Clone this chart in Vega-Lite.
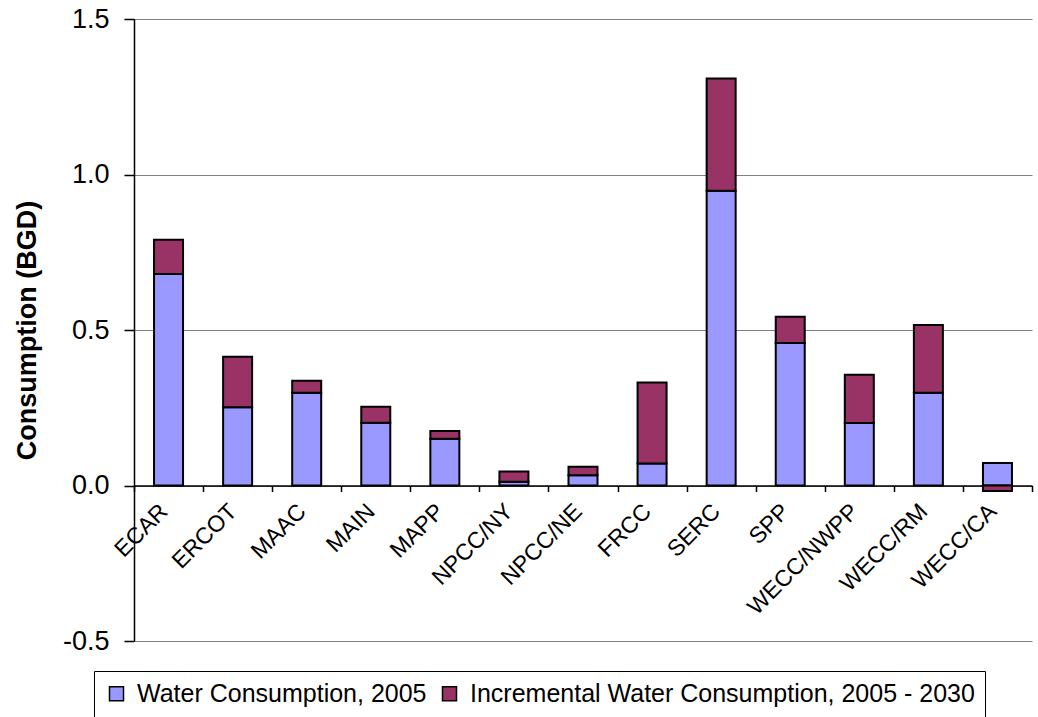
{
  "$schema": "https://vega.github.io/schema/vega-lite/v6.json",
  "autosize": "none",
  "padding": {"left": 134, "top": 19, "right": 6, "bottom": 76},
  "width": 898,
  "height": 622,
  "background": "white",
  "config": {
    "view": {"stroke": null},
    "font": "Liberation Sans, Arial, sans-serif"
  },
  "data": {
    "values": [
      {"region": "ECAR", "series": "Water Consumption, 2005", "value": 0.68},
      {"region": "ECAR", "series": "Incremental Water Consumption, 2005 - 2030", "value": 0.11},
      {"region": "ERCOT", "series": "Water Consumption, 2005", "value": 0.252},
      {"region": "ERCOT", "series": "Incremental Water Consumption, 2005 - 2030", "value": 0.162},
      {"region": "MAAC", "series": "Water Consumption, 2005", "value": 0.298},
      {"region": "MAAC", "series": "Incremental Water Consumption, 2005 - 2030", "value": 0.039},
      {"region": "MAIN", "series": "Water Consumption, 2005", "value": 0.202},
      {"region": "MAIN", "series": "Incremental Water Consumption, 2005 - 2030", "value": 0.051},
      {"region": "MAPP", "series": "Water Consumption, 2005", "value": 0.15},
      {"region": "MAPP", "series": "Incremental Water Consumption, 2005 - 2030", "value": 0.025},
      {"region": "NPCC/NY", "series": "Water Consumption, 2005", "value": 0.012},
      {"region": "NPCC/NY", "series": "Incremental Water Consumption, 2005 - 2030", "value": 0.033},
      {"region": "NPCC/NE", "series": "Water Consumption, 2005", "value": 0.033},
      {"region": "NPCC/NE", "series": "Incremental Water Consumption, 2005 - 2030", "value": 0.027},
      {"region": "FRCC", "series": "Water Consumption, 2005", "value": 0.071},
      {"region": "FRCC", "series": "Incremental Water Consumption, 2005 - 2030", "value": 0.26},
      {"region": "SERC", "series": "Water Consumption, 2005", "value": 0.948},
      {"region": "SERC", "series": "Incremental Water Consumption, 2005 - 2030", "value": 0.361},
      {"region": "SPP", "series": "Water Consumption, 2005", "value": 0.458},
      {"region": "SPP", "series": "Incremental Water Consumption, 2005 - 2030", "value": 0.085},
      {"region": "WECC/NWPP", "series": "Water Consumption, 2005", "value": 0.201},
      {"region": "WECC/NWPP", "series": "Incremental Water Consumption, 2005 - 2030", "value": 0.155},
      {"region": "WECC/RM", "series": "Water Consumption, 2005", "value": 0.298},
      {"region": "WECC/RM", "series": "Incremental Water Consumption, 2005 - 2030", "value": 0.218},
      {"region": "WECC/CA", "series": "Water Consumption, 2005", "value": 0.072},
      {"region": "WECC/CA", "series": "Incremental Water Consumption, 2005 - 2030", "value": -0.018}
    ]
  },
  "mark": {"type": "bar", "size": 29, "stroke": "black", "strokeWidth": 2},
  "encoding": {
    "x": {
      "field": "region",
      "type": "nominal",
      "sort": null,
      "scale": {"paddingInner": 0, "paddingOuter": 0},
      "axis": {
        "title": null,
        "offset": -155.5,
        "tickBand": "extent",
        "domainColor": "black",
        "domainWidth": 1.5,
        "tickColor": "black",
        "tickWidth": 1.5,
        "tickSize": 6,
        "labelAngle": -45,
        "labelAlign": "right",
        "labelBaseline": "middle",
        "labelPadding": 16,
        "labelOffset": -5,
        "labelFontSize": 23,
        "labelColor": "black",
        "labelFont": "Liberation Sans, Arial, sans-serif",
        "labelLimit": 300,
        "grid": false
      }
    },
    "y": {
      "field": "value",
      "type": "quantitative",
      "stack": "zero",
      "scale": {"domain": [-0.5, 1.5], "nice": false, "zero": false},
      "axis": {
        "title": "Consumption (BGD)",
        "titleFontSize": 27,
        "titleFontWeight": "bold",
        "titleColor": "black",
        "titleFont": "Liberation Sans, Arial, sans-serif",
        "titleX": -107,
        "titleY": 311,
        "titleAngle": -90,
        "titleAlign": "center",
        "titleBaseline": "middle",
        "values": [-0.5, 0, 0.5, 1, 1.5],
        "labelExpr": "replace(format(datum.value, '.1f'), '\u2212', '-')",
        "labelFontSize": 27,
        "labelColor": "black",
        "labelFont": "Liberation Sans, Arial, sans-serif",
        "labelPadding": 15,
        "domainColor": "black",
        "domainWidth": 1.5,
        "tickColor": "black",
        "tickWidth": 1.5,
        "tickSize": 10,
        "grid": true,
        "gridColor": "#808080",
        "gridWidth": 1
      }
    },
    "color": {
      "field": "series",
      "type": "nominal",
      "scale": {
        "domain": ["Water Consumption, 2005", "Incremental Water Consumption, 2005 - 2030"],
        "range": ["#9999FF", "#993366"]
      },
      "legend": {
        "title": null,
        "orient": "none",
        "direction": "horizontal",
        "legendX": -40,
        "legendY": 652,
        "labelFontSize": 25,
        "labelColor": "black",
        "labelFont": "Liberation Sans, Arial, sans-serif",
        "symbolType": "square",
        "symbolSize": 196,
        "symbolStrokeColor": "black",
        "symbolStrokeWidth": 1.5,
        "symbolOpacity": 1,
        "columnPadding": 10,
        "labelOffset": 8,
        "strokeColor": "black",
        "fillColor": "white",
        "padding": 10,
        "labelLimit": 700
      }
    },
    "order": {"field": "series", "sort": "descending"}
  }
}
